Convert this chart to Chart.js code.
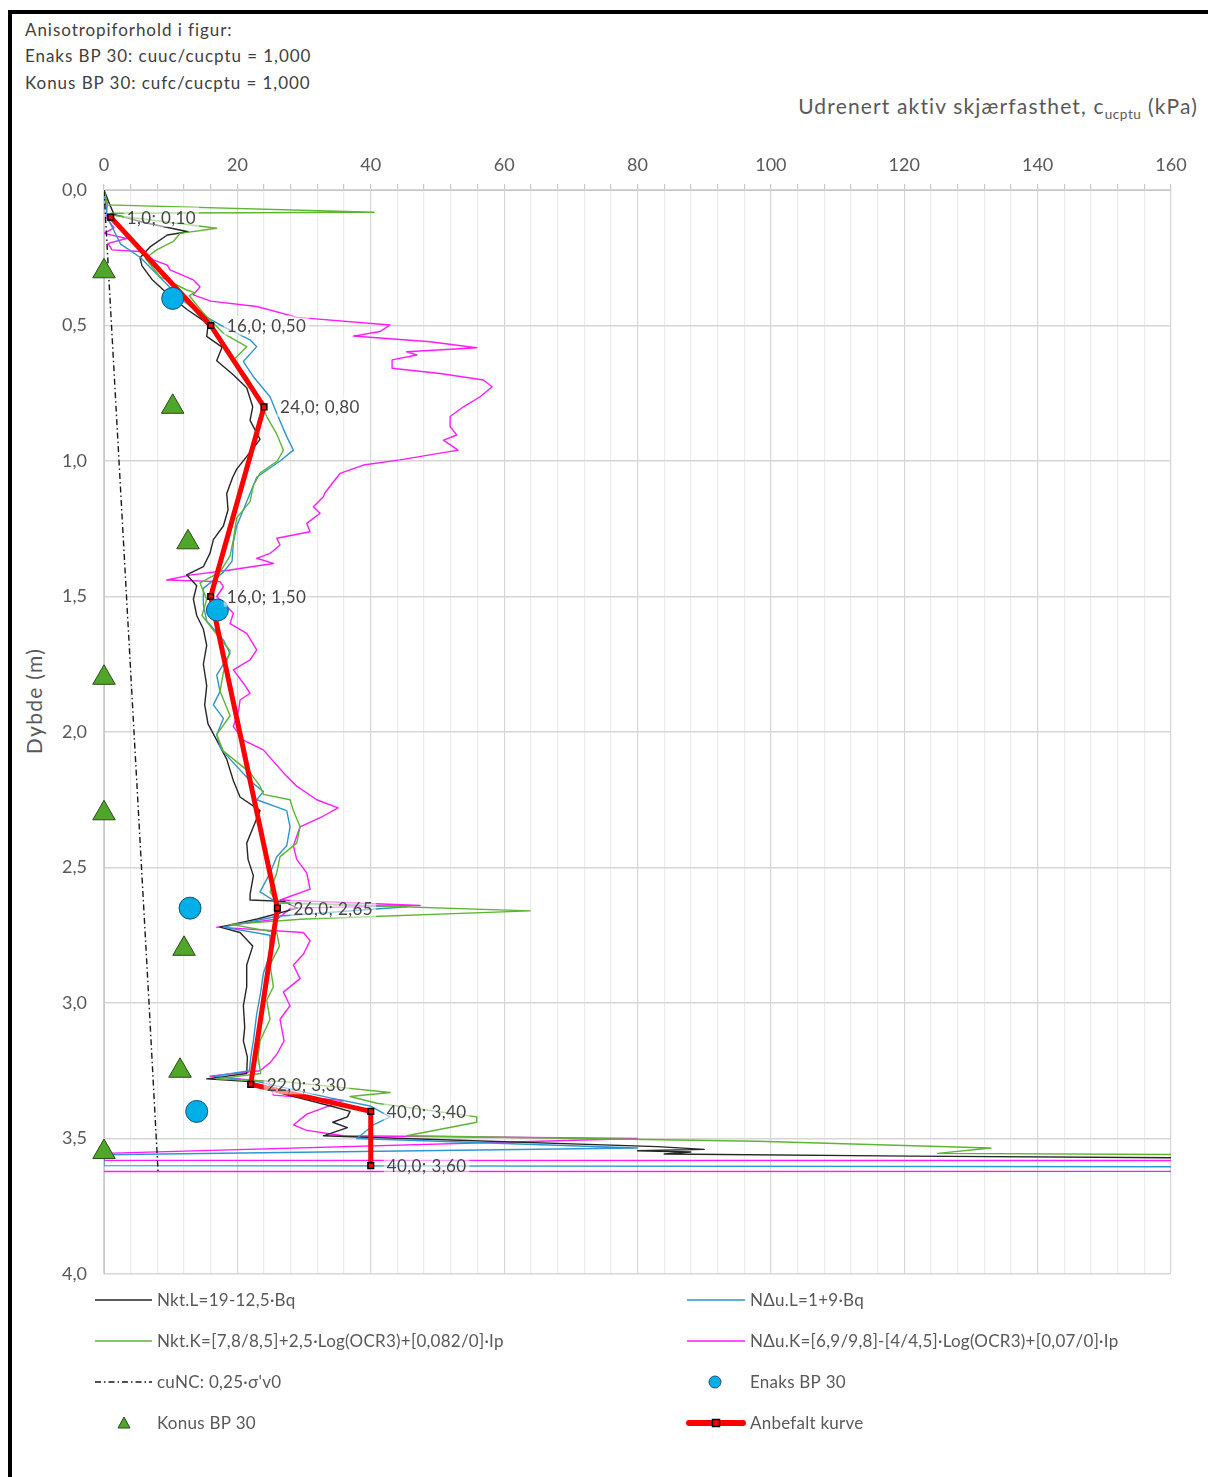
<!DOCTYPE html>
<html>
<head>
<meta charset="utf-8">
<script src="https://cdn.jsdelivr.net/npm/chart.js@4.4.1/dist/chart.umd.min.js"></script>
<style>
  html, body { margin: 0; padding: 0; background: #fff; }
  body { width: 1208px; height: 1477px; overflow: hidden; position: relative; font-family: Lato, "Open Sans", sans-serif; }
  #frame { position: absolute; left: 8px; top: 10px; width: 1400px; height: 1700px; border-top: 4px solid #000; border-left: 4px solid #000; box-sizing: border-box; }
  #chart { position: absolute; left: 0; top: 0; }
  .note { position: absolute; left: 25px; font-size: 17px; letter-spacing: 0.95px; color: #404040; line-height: 20px; white-space: nowrap; }
  #xtitle { position: absolute; right: 10px; top: 93px; font-size: 21px; color: #595959; white-space: nowrap; letter-spacing: 1.15px; }
  #xtitle sub { font-size: 13.5px; vertical-align: -5px; letter-spacing: 0.6px; }
  #ytitle { position: absolute; left: 33px; top: 701px; font-size: 21px; letter-spacing: 1.3px; color: #595959; white-space: nowrap; transform: translate(-50%, -50%) rotate(-90deg); }
</style>
</head>
<body>
<div class="note" style="top:20px">Anisotropiforhold i figur:</div>
<div class="note" style="top:46px">Enaks BP 30: cuuc/cucptu = 1,000</div>
<div class="note" style="top:73px">Konus BP 30: cufc/cucptu = 1,000</div>
<div id="xtitle">Udrenert aktiv skjærfasthet, c<sub>ucptu</sub> (kPa)</div>
<div id="ytitle">Dybde (m)</div>
<canvas id="chart" width="1208" height="1477"></canvas>
<div id="frame"></div>
<script>
// Depth (m) and undrained shear strength (kPa) for each interpreted CPTU profile
const nktLDepth = [0, 0.05, 0.09, 0.12, 0.154, 0.166, 0.21, 0.25, 0.28, 0.33, 0.38, 0.44, 0.48, 0.50, 0.54, 0.58, 0.63, 0.68, 0.73, 0.80, 0.85, 0.92, 0.98, 1.03, 1.06, 1.12, 1.18, 1.24, 1.29, 1.34, 1.39, 1.42, 1.46, 1.51, 1.57, 1.62, 1.68, 1.75, 1.83, 1.90, 1.97, 2.03, 2.10, 2.18, 2.24, 2.29, 2.35, 2.41, 2.47, 2.53, 2.60, 2.62, 2.625, 2.65, 2.69, 2.72, 2.74, 2.79, 2.86, 2.94, 3.01, 3.09, 3.14, 3.20, 3.26, 3.28, 3.29, 3.33, 3.38, 3.40, 3.42, 3.44, 3.46, 3.49, 3.50, 3.53, 3.54, 3.545, 3.55, 3.557, 3.565, 3.585];
const nktLValue = [0, 0.8, 1.5, 6, 12.6, 9.5, 6.9, 5.4, 5.7, 7.2, 9.4, 12.4, 14.8, 15.6, 15.4, 17.7, 16.9, 19.3, 21.4, 22.3, 21.9, 23.4, 21.5, 19.9, 19.3, 18.4, 18.6, 17.9, 16.4, 15.9, 14.9, 12.4, 13.9, 13.4, 13.9, 14.9, 15.4, 14.9, 15.4, 15.1, 15.6, 16.9, 18.4, 19.4, 20.4, 23.4, 22.4, 21.4, 21.6, 22.4, 21.9, 21.9, 27, 29, 23, 17.4, 20.4, 22.3, 21.4, 21.4, 20.9, 21.1, 20.9, 21.5, 21.4, 15.4, 22, 26, 34, 36.9, 36.5, 34.3, 36.5, 32.9, 45, 83, 90, 80, 88, 84, 121, 250];

const nduLDepth = [0, 0.10, 0.20, 0.25, 0.30, 0.35, 0.40, 0.45, 0.504, 0.553, 0.578, 0.633, 0.689, 0.763, 0.824, 0.91, 0.96, 1.0, 1.06, 1.12, 1.18, 1.24, 1.30, 1.37, 1.41, 1.47, 1.53, 1.59, 1.66, 1.71, 1.79, 1.85, 1.90, 1.95, 2.01, 2.06, 2.10, 2.18, 2.22, 2.25, 2.29, 2.35, 2.42, 2.46, 2.52, 2.59, 2.63, 2.645, 2.68, 2.72, 2.75, 2.82, 2.89, 2.96, 3.04, 3.14, 3.20, 3.25, 3.27, 3.29, 3.35, 3.38, 3.42, 3.45, 3.50, 3.535, 3.56, 3.60, 3.61];
const nduLValue = [0, 0.5, 2.5, 5.5, 7.5, 9.5, 11.5, 14, 17.9, 21.9, 22.9, 20.9, 22.4, 24.9, 25.9, 27.4, 28.4, 26.4, 22.9, 21.9, 20.9, 19.9, 19.4, 19.2, 17.9, 14.9, 14.9, 15.4, 17.9, 18.9, 16.9, 17.4, 16.4, 17.9, 16.9, 17.5, 18.9, 21.9, 23.9, 22.9, 27.4, 27.9, 27.4, 25.9, 24.9, 23.4, 26, 45.4, 26, 17.9, 24.9, 24.9, 23.9, 23.5, 22.9, 22.4, 22, 21.8, 16.5, 23, 33.9, 39.9, 42.9, 40.4, 37.9, 80, 0, 0, 400];

const nktKDepth = [0, 0.055, 0.082, 0.086, 0.092, 0.141, 0.16, 0.19, 0.221, 0.252, 0.32, 0.369, 0.379, 0.39, 0.455, 0.529, 0.578, 0.627, 0.689, 0.75, 0.836, 0.90, 0.96, 1.0, 1.045, 1.09, 1.15, 1.21, 1.29, 1.35, 1.41, 1.45, 1.51, 1.57, 1.64, 1.70, 1.78, 1.85, 1.94, 2.01, 2.07, 2.10, 2.15, 2.20, 2.23, 2.25, 2.29, 2.35, 2.41, 2.46, 2.52, 2.59, 2.63, 2.66, 2.69, 2.71, 2.74, 2.79, 2.86, 2.94, 2.99, 3.06, 3.14, 3.20, 3.26, 3.28, 3.29, 3.33, 3.345, 3.37, 3.42, 3.44, 3.49, 3.51, 3.535, 3.555, 3.56];
const nktKValue = [0, 0.5, 40.5, 1, 1, 16.9, 11.4, 10.4, 7.9, 6.2, 8.4, 12.4, 13.6, 12.8, 14.9, 17.9, 21.4, 19.4, 21.4, 22.9, 24.4, 25.9, 26.9, 26.0, 23.4, 22.4, 21.9, 19.9, 19.4, 18.9, 17.4, 14.4, 15.4, 14.7, 16.9, 18.9, 17.9, 17.4, 18.9, 16.9, 17.9, 19.4, 21.9, 23.4, 23.9, 27.9, 28.4, 29.4, 28.9, 26.4, 25.9, 24.9, 26, 63.9, 30, 19, 25.9, 26.3, 24.9, 25.4, 24.4, 24.9, 23.4, 23.1, 23.5, 16.9, 26.9, 42.9, 36.9, 40.9, 55.9, 55.9, 45.4, 98, 133, 125, 170];

const nduKDepth = [0, 0.05, 0.10, 0.14, 0.16, 0.179, 0.197, 0.221, 0.227, 0.258, 0.277, 0.295, 0.332, 0.357, 0.387, 0.41, 0.43, 0.47, 0.498, 0.522, 0.539, 0.56, 0.582, 0.597, 0.609, 0.627, 0.658, 0.677, 0.701, 0.726, 0.763, 0.80, 0.836, 0.873, 0.904, 0.923, 0.96, 0.996, 1.015, 1.046, 1.083, 1.119, 1.132, 1.169, 1.193, 1.23, 1.261, 1.285, 1.31, 1.341, 1.359, 1.378, 1.402, 1.421, 1.439, 1.445, 1.464, 1.50, 1.537, 1.562, 1.60, 1.636, 1.697, 1.734, 1.771, 1.82, 1.857, 1.882, 1.919, 1.98, 2.03, 2.066, 2.103, 2.15, 2.20, 2.25, 2.28, 2.31, 2.35, 2.42, 2.47, 2.52, 2.58, 2.62, 2.64, 2.65, 2.69, 2.72, 2.74, 2.77, 2.82, 2.86, 2.91, 2.96, 3.01, 3.06, 3.14, 3.19, 3.22, 3.25, 3.27, 3.29, 3.34, 3.36, 3.41, 3.45, 3.47, 3.49, 3.50, 3.555, 3.58, 3.583, 3.62, 3.622];
const nduKValue = [0, 0.5, 0.3, 1.5, 0, 3.4, 0.6, 1.2, 5.4, 7.4, 9.5, 9.9, 13.4, 14.4, 13.4, 16, 22.9, 29, 42.9, 41.4, 37.4, 48.9, 55.9, 45.4, 46.9, 43.2, 43.2, 50.4, 56.9, 58.2, 56.4, 53.9, 51.9, 51.9, 52.9, 50.9, 53.1, 44.4, 38.9, 35.4, 34.2, 33.1, 32.9, 31.4, 32.4, 30.4, 30.9, 25.9, 26.4, 24.9, 22.9, 25.4, 18.9, 12.9, 9.4, 17.4, 17.9, 16.9, 18.4, 19.4, 18.9, 21.4, 22.9, 21.9, 19.4, 20.9, 21.9, 20.4, 20.2, 19.4, 20.9, 23.9, 25.2, 26.9, 28.9, 31.9, 35.1, 32.9, 29.4, 28.4, 28.9, 30.4, 30.9, 26.4, 47.4, 28, 26, 16.9, 29.9, 30.9, 29.9, 28.4, 29.4, 26.9, 27.9, 26.4, 27.0, 25.9, 24.9, 23.4, 15.9, 24.7, 25.4, 35.9, 30.4, 28.4, 30.4, 35.9, 80, 0, 0, 400, 400, 0];

// Normally consolidated reference line cuNC = 0,25·σ'v0
const cuNcDepth = [0, 1.0, 2.0, 3.0, 3.62];
const cuNcValue = [0, 2.25, 4.5, 6.75, 8.1];

// Laboratory results: unconfined compression (Enaks) and fall cone (Konus)
const enaksDepth = [0.40, 1.55, 2.65, 3.40];
const enaksValue = [10.3, 17.0, 12.9, 13.9];
const konusDepth = [0.30, 0.80, 1.30, 1.80, 2.30, 2.80, 3.25, 3.55];
const konusValue = [0.0, 10.3, 12.6, 0.0, 0.0, 12.0, 11.4, 0.0];

// Recommended design profile
const anbefaltDepth = [0.10, 0.50, 0.80, 1.50, 2.65, 3.30, 3.40, 3.60];
const anbefaltValue = [1.0, 16.0, 24.0, 16.0, 26.0, 22.0, 40.0, 40.0];

// Axis ticks
const xTicksMajor = [0, 20, 40, 60, 80, 100, 120, 140, 160];
const yTicks = [0, 0.5, 1.0, 1.5, 2.0, 2.5, 3.0, 3.5, 4.0];

const pairs = (depths, values) => depths.map((d, i) => ({ x: values[i], y: d }));
const comma = (v, n) => v.toFixed(n).replace('.', ',');
const FONT = 'Lato, "Open Sans", sans-serif';
const TEXT = '#595959';

const lineStyle = (color) => ({ borderColor: color, backgroundColor: color, borderWidth: 1.4, pointRadius: 0, showLine: true, tension: 0, fill: false });

const datasets = [
  Object.assign({ label: 'Nkt.L=19-12,5·Bq', data: pairs(nktLDepth, nktLValue), order: 5 }, lineStyle('#262626')),
  Object.assign({ label: 'NΔu.L=1+9·Bq', data: pairs(nduLDepth, nduLValue), order: 4 }, lineStyle('#2f95d0')),
  Object.assign({ label: 'Nkt.K=[7,8/8,5]+2,5·Log(OCR3)+[0,082/0]·Ip', data: pairs(nktKDepth, nktKValue), order: 3 }, lineStyle('#5db532')),
  Object.assign({ label: 'NΔu.K=[6,9/9,8]-[4/4,5]·Log(OCR3)+[0,07/0]·Ip', data: pairs(nduKDepth, nduKValue), order: 6 }, lineStyle('#ff1aff')),
  Object.assign({ label: 'cuNC: 0,25·σ\'v0', data: pairs(cuNcDepth, cuNcValue), order: 2, borderDash: [6, 3, 1.5, 3] }, lineStyle('#1a1a1a')),
  { label: 'Anbefalt kurve', data: pairs(anbefaltDepth, anbefaltValue), order: 1, showLine: true, borderColor: '#ff0000', borderWidth: 5,
    pointStyle: 'rect', pointRadius: 4, pointBackgroundColor: '#ff0000', pointBorderColor: '#000', pointBorderWidth: 1.5, clip: false },
  { label: 'Enaks BP 30', data: pairs(enaksDepth, enaksValue), order: 0, showLine: false, pointStyle: 'circle', pointRadius: 11,
    pointBackgroundColor: '#00aee8', pointBorderColor: '#1d4f73', pointBorderWidth: 1, clip: false },
  { label: 'Konus BP 30', data: pairs(konusDepth, konusValue), order: 0, showLine: false, pointStyle: 'triangle', pointRadius: 13,
    pointBackgroundColor: '#4fa629', pointBorderColor: '#2d4a1c', pointBorderWidth: 1, clip: false }
];

// Value labels beside each point of the recommended profile
const pointLabels = {
  id: 'pointLabels',
  afterDatasetsDraw(chart) {
    const idx = chart.data.datasets.findIndex(d => d.label === 'Anbefalt kurve');
    const meta = chart.getDatasetMeta(idx);
    const ctx = chart.ctx;
    ctx.save();
    ctx.font = '17px ' + FONT;
    ctx.letterSpacing = '0.4px';
    ctx.textBaseline = 'middle';
    meta.data.forEach((el, i) => {
      const txt = comma(anbefaltValue[i], 1) + '; ' + comma(anbefaltDepth[i], 2);
      const x = el.x + 16, y = el.y;
      const w = ctx.measureText(txt).width;
      ctx.fillStyle = 'rgba(255,255,255,0.55)';
      ctx.fillRect(x - 3, y - 10, w + 6, 20);
      ctx.fillStyle = '#454545';
      ctx.fillText(txt, x, y + 1);
    });
    ctx.restore();
  }
};

// Two-column legend below the plot
const legendBlock = {
  id: 'legendBlock',
  afterDraw(chart) {
    const ctx = chart.ctx;
    const ds = chart.data.datasets;
    const rows = [1300, 1341, 1382, 1423];
    const L = { x0: 95, x1: 152, tx: 157 }, R = { x0: 687, x1: 745, tx: 750 };
    const entries = [
      [ds[0], L, rows[0], 'line'], [ds[1], R, rows[0], 'line'],
      [ds[2], L, rows[1], 'line'], [ds[3], R, rows[1], 'line'],
      [ds[4], L, rows[2], 'line'], [ds[6], R, rows[2], 'circle'],
      [ds[7], L, rows[3], 'triangle'], [ds[5], R, rows[3], 'red']
    ];
    ctx.save();
    ctx.font = '17px ' + FONT;
    ctx.letterSpacing = '0.25px';
    ctx.textBaseline = 'middle';
    entries.forEach(([d, col, y, kind]) => {
      const mid = (col.x0 + col.x1) / 2;
      if (kind === 'line') {
        ctx.strokeStyle = d.borderColor; ctx.lineWidth = 1.6;
        ctx.setLineDash(d.borderDash || []);
        ctx.beginPath(); ctx.moveTo(col.x0, y); ctx.lineTo(col.x1, y); ctx.stroke();
        ctx.setLineDash([]);
      } else if (kind === 'circle') {
        ctx.fillStyle = d.pointBackgroundColor; ctx.strokeStyle = d.pointBorderColor; ctx.lineWidth = 1;
        ctx.beginPath(); ctx.arc(mid - 1, y, 6, 0, Math.PI * 2); ctx.fill(); ctx.stroke();
      } else if (kind === 'triangle') {
        ctx.fillStyle = d.pointBackgroundColor; ctx.strokeStyle = d.pointBorderColor; ctx.lineWidth = 1;
        ctx.beginPath(); ctx.moveTo(124, y - 6); ctx.lineTo(130, y + 5); ctx.lineTo(118, y + 5); ctx.closePath(); ctx.fill(); ctx.stroke();
      } else {
        ctx.strokeStyle = d.borderColor; ctx.lineWidth = 6; ctx.lineCap = 'round';
        ctx.beginPath(); ctx.moveTo(col.x0 + 2, y); ctx.lineTo(col.x1 - 2, y); ctx.stroke();
        ctx.lineCap = 'butt';
        ctx.fillStyle = '#ff0000'; ctx.strokeStyle = '#000'; ctx.lineWidth = 1.5;
        ctx.fillRect(mid - 3.5, y - 3.5, 7, 7); ctx.strokeRect(mid - 3.5, y - 3.5, 7, 7);
      }
      ctx.fillStyle = TEXT;
      ctx.fillText(d.label, col.tx, y + 1);
    });
    ctx.restore();
  }
};

new Chart(document.getElementById('chart'), {
  type: 'scatter',
  data: { datasets },
  plugins: [pointLabels, legendBlock],
  options: {
    responsive: false,
    animation: false,
    devicePixelRatio: 1,
    layout: { padding: { left: 0, right: 37, top: 140, bottom: 203 } },
    plugins: { legend: { display: false }, tooltip: { enabled: false } },
    elements: { line: { borderJoinStyle: 'round' } },
    scales: {
      x: {
        type: 'linear', position: 'top', min: 0, max: 160,
        afterFit: s => { s.height = 50; },
        afterBuildTicks: s => {
          const t = [];
          for (let v = xTicksMajor[0]; v <= xTicksMajor[xTicksMajor.length - 1]; v += 4) t.push({ value: v });
          s.ticks = t;
        },
        ticks: { autoSkip: false, maxRotation: 0, padding: 8, color: TEXT, font: { family: FONT, size: 18 },
          callback: v => xTicksMajor.includes(v) ? String(v) : '' },
        grid: { color: c => (c.tick && xTicksMajor.includes(c.tick.value)) ? '#d6d6d6' : '#ececec', lineWidth: 1.2,
          tickLength: 6, tickColor: '#c8c8c8', drawTicks: true },
        border: { display: true, color: '#c8c8c8' }
      },
      y: {
        type: 'linear', reverse: true, min: 0, max: 4,
        afterFit: s => { s.width = 104; },
        afterBuildTicks: s => { s.ticks = yTicks.map(v => ({ value: v })); },
        ticks: { padding: 17, color: TEXT, font: { family: FONT, size: 18 }, callback: v => comma(v, 1) },
        grid: { color: '#d6d6d6', lineWidth: 1.4, drawTicks: false },
        border: { display: true, color: '#c8c8c8' }
      }
    }
  }
});
</script>
</body>
</html>
